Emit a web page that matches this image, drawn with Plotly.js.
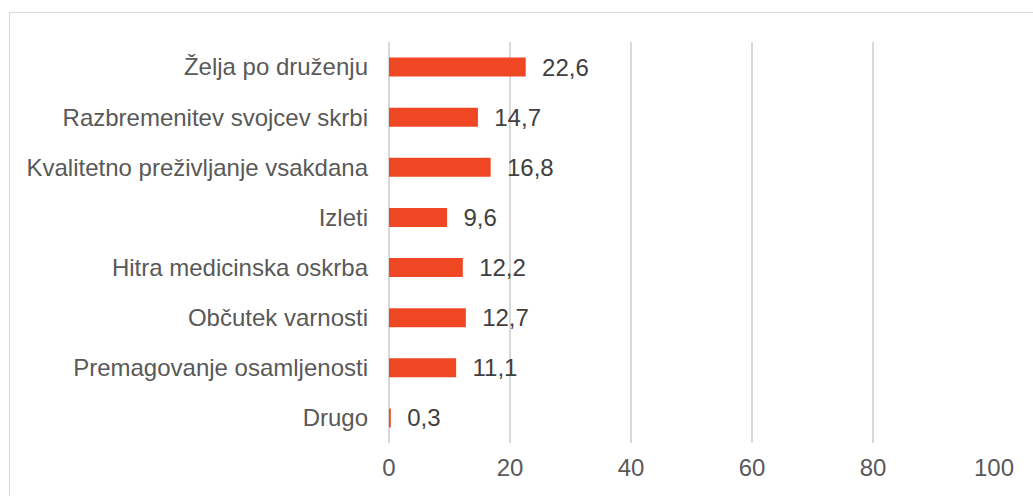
<!DOCTYPE html>
<html>
<head>
<meta charset="utf-8">
<script src="https://cdn.plot.ly/plotly-3.0.1.min.js"></script>
<style>
html,body{margin:0;padding:0;background:#fff;}
#wrap{position:relative;width:1033px;height:496px;overflow:hidden;}
#frame{position:absolute;left:9px;top:12px;width:1100px;height:600px;border-left:1px solid #d9d9d9;border-top:1px solid #d9d9d9;pointer-events:none;}
#chart{position:absolute;left:0;top:0;width:1033px;height:496px;}
</style>
</head>
<body>
<div id="wrap">
<div id="chart"></div>
<div id="frame"></div>
</div>
<script>
const categories = ["Želja po druženju","Razbremenitev svojcev skrbi","Kvalitetno preživljanje vsakdana","Izleti","Hitra medicinska oskrba","Občutek varnosti","Premagovanje osamljenosti","Drugo"];
const values = [22.6, 14.7, 16.8, 9.6, 12.2, 12.7, 11.1, 0.3];
const tickValues = [0, 20, 40, 60, 80, 100];

const trace = {
  type: 'bar',
  orientation: 'h',
  x: values,
  y: categories,
  width: 0.38,
  marker: {color: '#EF4723'},
  texttemplate: '\u00a0\u00a0%{x:.1f}',
  textposition: 'outside',
  constraintext: 'none',
  cliponaxis: false,
  textfont: {family: 'Liberation Sans, Arial, sans-serif', size: 24, color: '#404040'},
  hoverinfo: 'none'
};

const layout = {
  width: 1033, height: 496,
  margin: {l: 389, r: 39, t: 42, b: 53},
  paper_bgcolor: '#fff', plot_bgcolor: '#fff',
  separators: ',.',
  showlegend: false,
  font: {family: 'Liberation Sans, Arial, sans-serif', size: 24, color: '#595959'},
  xaxis: {
    range: [0, 100],
    tickvals: tickValues,
    ticktext: tickValues.map(String),
    showgrid: true, gridcolor: '#d9d9d9', gridwidth: 1.3,
    zeroline: true, zerolinecolor: '#d9d9d9', zerolinewidth: 1.3,
    showline: false,
    ticks: '', ticklabelstandoff: 8,
    tickfont: {size: 24, color: '#595959'},
    fixedrange: true
  },
  yaxis: {
    autorange: 'reversed',
    type: 'category',
    showgrid: false, zeroline: false, showline: false,
    ticks: '', ticklabelstandoff: 20,
    tickfont: {size: 24, color: '#595959'},
    fixedrange: true
  }
};

Plotly.newPlot('chart', [trace], layout, {displayModeBar: false, staticPlot: true});
</script>
</body>
</html>
